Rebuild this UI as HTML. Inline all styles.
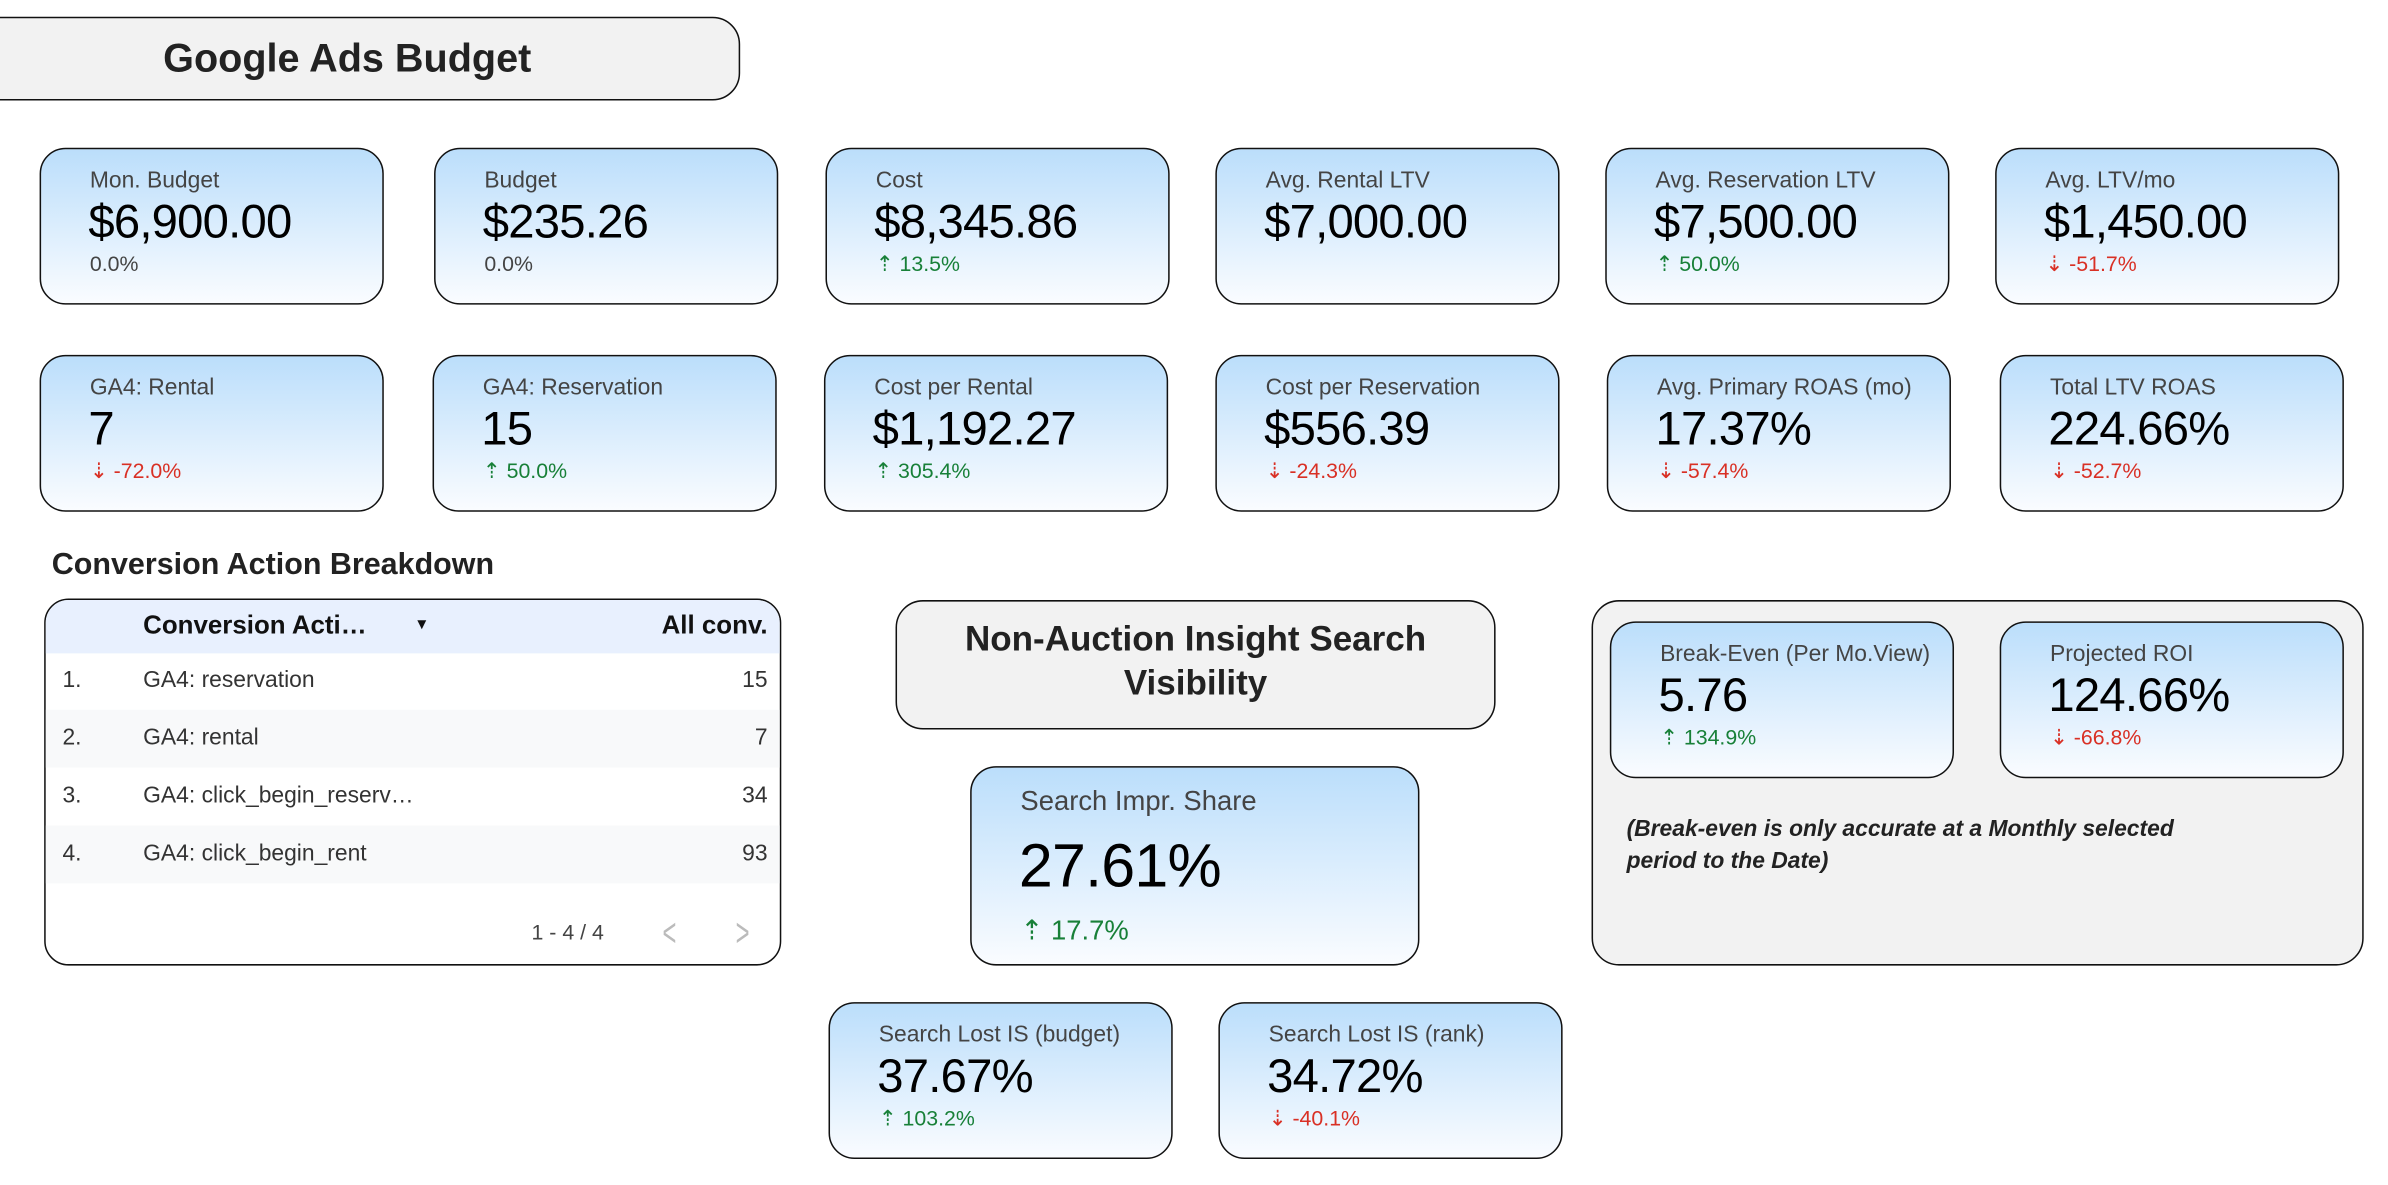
<!DOCTYPE html>
<html><head><meta charset="utf-8"><style>
html,body{margin:0;padding:0;background:#fff;width:2388px;height:1184px;overflow:hidden}
#w{position:absolute;left:0;top:0;width:1568px;height:778px;transform:scale(1.523);transform-origin:0 0;font-family:"Liberation Sans",sans-serif}
.a{position:absolute;box-sizing:border-box}
.box{border:1.6px solid #111;border-radius:18px;background:#f2f2f2}
.card{width:226px;height:103px;border:1.6px solid #111;border-radius:17px;background:linear-gradient(#bbdefb,#fafcff)}
.card .l{position:absolute;left:32px;top:12px;font-size:15px;line-height:17px;color:#444;white-space:nowrap}
.card .v{position:absolute;left:31px;top:31px;font-size:31px;line-height:33px;color:#000;white-space:nowrap;letter-spacing:-0.5px}
.card .c{position:absolute;left:32px;top:67px;font-size:14px;line-height:16px;color:#444;white-space:nowrap}
.up{color:#188038!important}.dn{color:#d93025!important}
.bt{font-weight:bold;color:#222}
.row{position:absolute;left:0;width:100%;height:38px;font-size:15px;color:#333;line-height:38px}
</style></head><body><div id="w">
<div class="a box" style="left:-20px;top:11px;width:506px;height:55px"></div>
<div class="a bt" style="left:0;top:22px;width:456px;text-align:center;font-size:26px;line-height:32px">Google Ads Budget</div>

<div class="a card" style="left:26px;top:97px"><div class="l">Mon. Budget</div><div class="v">$6,900.00</div><div class="c">0.0%</div></div>
<div class="a card" style="left:285px;top:97px"><div class="l">Budget</div><div class="v">$235.26</div><div class="c">0.0%</div></div>
<div class="a card" style="left:542px;top:97px"><div class="l">Cost</div><div class="v">$8,345.86</div><div class="c up">⇡ 13.5%</div></div>
<div class="a card" style="left:798px;top:97px"><div class="l">Avg. Rental LTV</div><div class="v">$7,000.00</div></div>
<div class="a card" style="left:1054px;top:97px"><div class="l">Avg. Reservation LTV</div><div class="v">$7,500.00</div><div class="c up">⇡ 50.0%</div></div>
<div class="a card" style="left:1310px;top:97px"><div class="l">Avg. LTV/mo</div><div class="v">$1,450.00</div><div class="c dn">⇣ -51.7%</div></div>

<div class="a card" style="left:26px;top:233px"><div class="l">GA4: Rental</div><div class="v">7</div><div class="c dn">⇣ -72.0%</div></div>
<div class="a card" style="left:284px;top:233px"><div class="l">GA4: Reservation</div><div class="v">15</div><div class="c up">⇡ 50.0%</div></div>
<div class="a card" style="left:541px;top:233px"><div class="l">Cost per Rental</div><div class="v">$1,192.27</div><div class="c up">⇡ 305.4%</div></div>
<div class="a card" style="left:798px;top:233px"><div class="l">Cost per Reservation</div><div class="v">$556.39</div><div class="c dn">⇣ -24.3%</div></div>
<div class="a card" style="left:1055px;top:233px"><div class="l">Avg. Primary ROAS (mo)</div><div class="v">17.37%</div><div class="c dn">⇣ -57.4%</div></div>
<div class="a card" style="left:1313px;top:233px"><div class="l">Total LTV ROAS</div><div class="v">224.66%</div><div class="c dn">⇣ -52.7%</div></div>

<div class="a bt" style="left:34px;top:359px;font-size:20px;line-height:24px">Conversion Action Breakdown</div>
<div class="a" style="left:29px;top:393px;width:484px;height:241px;border:1.6px solid #111;border-radius:16px;overflow:hidden;background:#fff">
 <div class="row" style="top:0;height:35px;line-height:34px;background:#e8f0fe;font-weight:bold;color:#111;font-size:17px"><span style="position:absolute;left:64px">Conversion Acti…</span><span style="position:absolute;left:242px;font-size:10px">▼</span><span style="position:absolute;right:8px">All conv.</span></div>
 <div class="row" style="top:34px"><span style="position:absolute;left:11px">1.</span><span style="position:absolute;left:64px">GA4: reservation</span><span style="position:absolute;right:8px">15</span></div>
 <div class="row" style="top:72px;background:#f8f9fa"><span style="position:absolute;left:11px">2.</span><span style="position:absolute;left:64px">GA4: rental</span><span style="position:absolute;right:8px">7</span></div>
 <div class="row" style="top:110px"><span style="position:absolute;left:11px">3.</span><span style="position:absolute;left:64px">GA4: click_begin_reserv…</span><span style="position:absolute;right:8px">34</span></div>
 <div class="row" style="top:148px;background:#f8f9fa"><span style="position:absolute;left:11px">4.</span><span style="position:absolute;left:64px">GA4: click_begin_rent</span><span style="position:absolute;right:8px">93</span></div>
 <div class="a" style="left:319px;top:210px;font-size:14px;color:#444">1 - 4 / 4</div>
 <div class="a" style="left:402px;top:203px;font-size:26px;color:#bbb;transform:scaleX(.6)">&lt;</div>
 <div class="a" style="left:450px;top:203px;font-size:26px;color:#bbb;transform:scaleX(.6)">&gt;</div>
</div>

<div class="a box" style="left:588px;top:394px;width:394px;height:85px"></div>
<div class="a bt" style="left:588px;top:405px;width:394px;text-align:center;font-size:23px;line-height:29px">Non-Auction Insight Search<br>Visibility</div>

<div class="a card" style="left:637px;top:503px;width:295px;height:131px"><div class="l" style="font-size:18px;top:12px;line-height:20px">Search Impr. Share</div><div class="v" style="font-size:40px;line-height:44px;top:43px">27.61%</div><div class="c up" style="font-size:18px;top:97px;line-height:20px">⇡ 17.7%</div></div>

<div class="a card" style="left:544px;top:658px"><div class="l">Search Lost IS (budget)</div><div class="v">37.67%</div><div class="c up">⇡ 103.2%</div></div>
<div class="a card" style="left:800px;top:658px"><div class="l">Search Lost IS (rank)</div><div class="v">34.72%</div><div class="c dn">⇣ -40.1%</div></div>

<div class="a box" style="left:1045px;top:394px;width:507px;height:240px"></div>
<div class="a card" style="left:1057px;top:408px"><div class="l">Break-Even (Per Mo.View)</div><div class="v">5.76</div><div class="c up">⇡ 134.9%</div></div>
<div class="a card" style="left:1313px;top:408px"><div class="l">Projected ROI</div><div class="v">124.66%</div><div class="c dn">⇣ -66.8%</div></div>
<div class="a bt" style="left:1068px;top:534px;width:400px;font-size:15px;line-height:21px;font-style:italic">(Break-even is only accurate at a Monthly selected period to the Date)</div>
</div></body></html>
